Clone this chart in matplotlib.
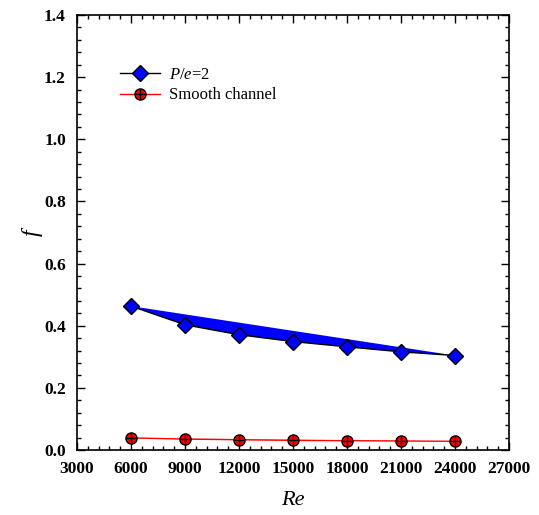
import numpy as np
import matplotlib
matplotlib.use('Agg')
import matplotlib.pyplot as plt
from matplotlib.ticker import MultipleLocator, FormatStrFormatter
from matplotlib.lines import Line2D

plt.rcParams['font.family'] = 'Liberation Serif'
plt.rcParams['mathtext.fontset'] = 'custom'
plt.rcParams['mathtext.it'] = 'Liberation Serif:italic'
plt.rcParams['mathtext.rm'] = 'Liberation Serif'

re = [6000, 9000, 12000, 15000, 18000, 21000, 24000]
f_rib = [0.463, 0.403, 0.371, 0.349, 0.332, 0.316, 0.304]
f_smooth = [0.039, 0.035, 0.033, 0.031, 0.030, 0.029, 0.028]

fig = plt.figure(figsize=(5.39, 5.15), dpi=100)
ax = fig.add_axes([77/539, 1 - 450/515, 432/539, 435/515])

# filled polygons between curve and chord
ax.fill(re, f_rib, color='#0000ff', lw=0)
ax.fill(re, f_smooth, color='#ff8080', lw=0)

rib_line, = ax.plot(re, f_rib, color='black', lw=1, marker='D', ms=8,
                    mfc='#0000ff', mec='black', mew=1)
ax.plot(re, f_smooth, color='red', lw=1, marker='o', ms=8,
        mfc='red', mec='black', mew=1)
ax.plot(re, f_smooth, ls='none', marker='+', ms=7, mec='black', mew=1)

smooth_handle = (Line2D([], [], color='red', lw=1, marker='o', ms=8, mfc='red', mec='black', mew=1),
                 Line2D([], [], ls='none', marker='+', ms=7, mec='black', mew=1))
ax.legend([rib_line, smooth_handle], ['$P/e$=2', 'Smooth channel'],
          loc='upper left', bbox_to_anchor=(0.099, 0.88), frameon=False,
          fontsize=12, handlelength=2.4, handletextpad=0.55,
          labelspacing=0.25, borderaxespad=0, borderpad=0)

ax.set_xlim(3000, 27000)
ax.set_ylim(0, 1.4)
ax.xaxis.set_major_locator(MultipleLocator(3000))
ax.xaxis.set_minor_locator(MultipleLocator(600))
ax.yaxis.set_major_locator(MultipleLocator(0.2))
ax.yaxis.set_minor_locator(MultipleLocator(0.04))
ax.yaxis.set_major_formatter(FormatStrFormatter('%.1f'))
ax.tick_params(which='both', direction='in', top=True, right=True,
               labelsize=12.5, width=1)
ax.tick_params(which='major', length=6)
ax.tick_params(axis='x', which='major', pad=8)
ax.tick_params(axis='y', which='major', pad=8)
ax.tick_params(which='minor', length=3)
for t in ax.get_xticklabels() + ax.get_yticklabels():
    t.set_fontweight('bold')
for s in ax.spines.values():
    s.set_linewidth(1.2)

ax.set_xlabel('Re', fontsize=16, style='italic', labelpad=10)
ax.set_ylabel('f', fontsize=17, style='italic', labelpad=1)

fig.savefig('out.png', dpi=100)
